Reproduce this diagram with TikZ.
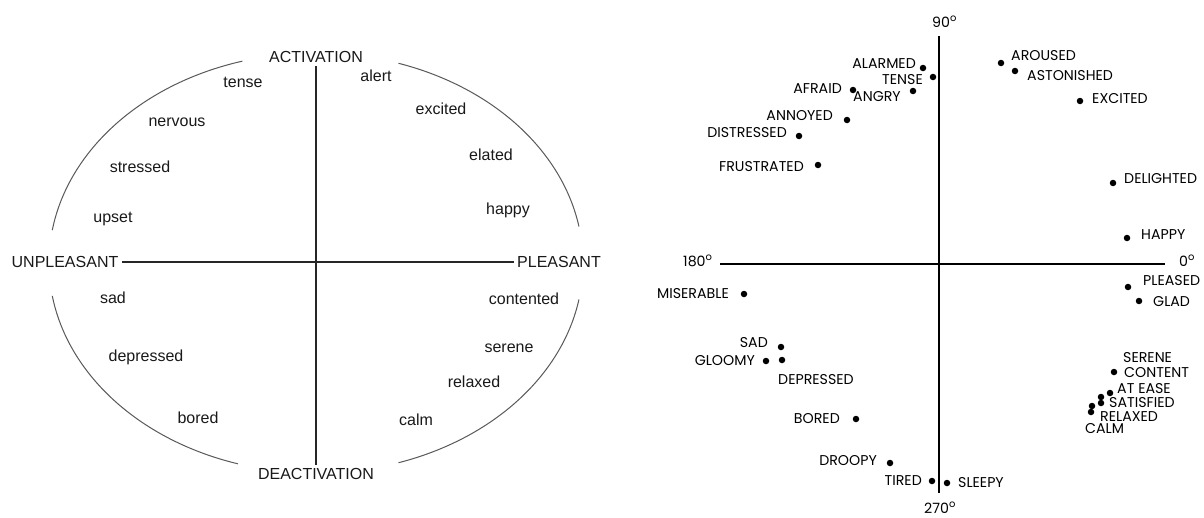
\documentclass[tikz,border=0pt]{standalone}
\usepackage{fontspec}
\setmainfont{Liberation Sans}
\newfontfamily\geofont{Poppins}

\begin{document}
\begin{tikzpicture}[x=1pt,y=-1pt,
    word/.style={
% The font:
font=\fontsize{16}{18}\selectfont, text=black!90,
% The size:
text height=8pt, text depth=0pt, inner sep=0pt,
},
    pole/.style={
% The font:
font=\fontsize{16}{18}\selectfont, text=black!90,
% The size:
inner sep=3.5pt,
},
    dot/.style={
% The shape:
circle, fill=black,
% The size:
inner sep=0pt, minimum size=6.5pt,
},
    mood/.style={font=\geofont\fontsize{14.2}{16}\selectfont, inner sep=0pt},
    deg/.style={font=\geofont\fontsize{14.2}{16}\selectfont, inner sep=0pt, anchor=base west},
]
  \useasboundingbox[fill=white] (0,0) rectangle (1204,517);

  % left: circumplex of words
  \coordinate (c) at (316,263);
  \node[pole] (act)   at (316,57)  {ACTIVATION};
  \node[pole] (deact) at (316,474) {DEACTIVATION};
  \node[pole] (unpl)  at (65,262)  {UNPLEASANT};
  \node[pole] (pleas) at (559,262) {PLEASANT};
  \draw[black!85, line width=1.5pt] (act) -- (deact);
  \draw[black!85, line width=1.5pt] (unpl) -- (pleas);
  \draw[black!65, line width=1pt] ([shift={(10:267 and 210)}]c) arc[start angle=10, end angle=72, x radius=267, y radius=210];
  \draw[black!65, line width=1pt] ([shift={(107:267 and 210)}]c) arc[start angle=107, end angle=171, x radius=267, y radius=210];
  \draw[black!65, line width=1pt] ([shift={(189:267 and 210)}]c) arc[start angle=189, end angle=254, x radius=267, y radius=210];
  \draw[black!65, line width=1pt] ([shift={(288:267 and 210)}]c) arc[start angle=288, end angle=350, x radius=267, y radius=210];

  \node[word] (tense)     at (243,83)  {tense};
  \node[word] (nervous)   at (177,122) {nervous};
  \node[word] (stressed)  at (140,168) {stressed};
  \node[word] (upset)     at (113,218) {upset};
  \node[word] (alert)     at (376,77)  {alert};
  \node[word] (excited)   at (441,110) {excited};
  \node[word] (elated)    at (491,156) {elated};
  \node[word] (happy)     at (508,210) {happy};
  \node[word] (sad)       at (113,299) {sad};
  \node[word] (depressed) at (146,357) {depressed};
  \node[word] (bored)     at (198,419) {bored};
  \node[word] (contented) at (524,300) {contented};
  \node[word] (serene)    at (509,348) {serene};
  \node[word] (relaxed)   at (474,383) {relaxed};
  \node[word] (calm)      at (416,421) {calm};

  % right: scaled mood terms
  \coordinate (N) at (939,36);
  \coordinate (S) at (939,493);
  \coordinate (W) at (720,264);
  \coordinate (E) at (1165,264);
  \draw[line width=2pt] (N) -- (S);
  \draw[line width=2pt] (W) -- (E);
  \node[deg] (d90)  at (932,27)  {90\textsuperscript{o}};
  \node[deg] (d180) at (683,266) {180\textsuperscript{o}};
  \node[deg] (d0)   at (1179,266) {0\textsuperscript{o}};
  \node[deg] (d270) at (924,513) {270\textsuperscript{o}};

  \node[dot] (p-alarmed)    at (923,68)  {};
  \node[dot] (p-tense)      at (933,77)  {};
  \node[dot] (p-afraid)     at (853,90)  {};
  \node[dot] (p-angry)      at (913,91)  {};
  \node[dot] (p-annoyed)    at (847,120) {};
  \node[dot] (p-distressed) at (799,136) {};
  \node[dot] (p-frustrated) at (818,165) {};
  \node[dot] (p-aroused)    at (1001,63) {};
  \node[dot] (p-astonished) at (1015,71) {};
  \node[dot] (p-excited)    at (1080,101) {};
  \node[dot] (p-delighted)  at (1113,183) {};
  \node[dot] (p-happy)      at (1127,238) {};
  \node[dot] (p-pleased)    at (1128,287) {};
  \node[dot] (p-glad)       at (1139,301) {};
  \node[dot] (p-content)    at (1114,372) {};
  \node[dot] (p-atease)     at (1110,393) {};
  \node[dot] (p-satisfied)  at (1101,397) {};
  \node[dot] (p-satisfiedb) at (1101,403) {};
  \node[dot] (p-relaxed)    at (1092,406) {};
  \node[dot] (p-calm)       at (1091,412) {};
  \node[dot] (p-sleepy)     at (947,483) {};
  \node[dot] (p-miserable)  at (744,294) {};
  \node[dot] (p-sad)        at (781,347) {};
  \node[dot] (p-gloomy)     at (766,361) {};
  \node[dot] (p-depressed)  at (782,360) {};
  \node[dot] (p-bored)      at (856,419) {};
  \node[dot] (p-droopy)     at (890,463) {};
  \node[dot] (p-tired)      at (932,481) {};

  \node[mood, anchor=east] (t-alarmed)    at (916,64)  {ALARMED};
  \node[mood, anchor=east] (t-tense)      at (923,80)  {TENSE};
  \node[mood, anchor=east] (t-afraid)     at (842,89)  {AFRAID};
  \node[mood, anchor=west] (t-angry)      at (853,97)  {ANGRY};
  \node[mood, anchor=east] (t-annoyed)    at (833,116) {ANNOYED};
  \node[mood, anchor=east] (t-distressed) at (787,133) {DISTRESSED};
  \node[mood, anchor=east] (t-frustrated) at (804,167) {FRUSTRATED};
  \node[mood, anchor=west] (t-aroused)    at (1011,56) {AROUSED};
  \node[mood, anchor=west] (t-astonished) at (1027,76) {ASTONISHED};
  \node[mood, anchor=west] (t-excited)    at (1092,99) {EXCITED};
  \node[mood, anchor=west] (t-delighted)  at (1124,179) {DELIGHTED};
  \node[mood, anchor=west] (t-happy)      at (1141,235) {HAPPY};
  \node[mood, anchor=west] (t-pleased)    at (1143,281) {PLEASED};
  \node[mood, anchor=west] (t-glad)       at (1153,302) {GLAD};
  \node[mood, anchor=west] (t-serene)     at (1123,358) {SERENE};
  \node[mood, anchor=west] (t-content)    at (1124,373) {CONTENT};
  \node[mood, anchor=west] (t-atease)     at (1117,389) {AT EASE};
  \node[mood, anchor=west] (t-satisfied)  at (1109,403) {SATISFIED};
  \node[mood, anchor=west] (t-relaxed)    at (1100,417) {RELAXED};
  \node[mood, anchor=west] (t-calm)       at (1085,429) {CALM};
  \node[mood, anchor=west] (t-sleepy)     at (958,483) {SLEEPY};
  \node[mood, anchor=east] (t-miserable)  at (729,294) {MISERABLE};
  \node[mood, anchor=east] (t-sad)        at (768,343) {SAD};
  \node[mood, anchor=east] (t-gloomy)     at (755,361) {GLOOMY};
  \node[mood, anchor=west] (t-depressed)  at (778,380) {DEPRESSED};
  \node[mood, anchor=east] (t-bored)      at (840,419) {BORED};
  \node[mood, anchor=east] (t-droopy)     at (877,461) {DROOPY};
  \node[mood, anchor=east] (t-tired)      at (922,481) {TIRED};

\end{tikzpicture}
\end{document}
